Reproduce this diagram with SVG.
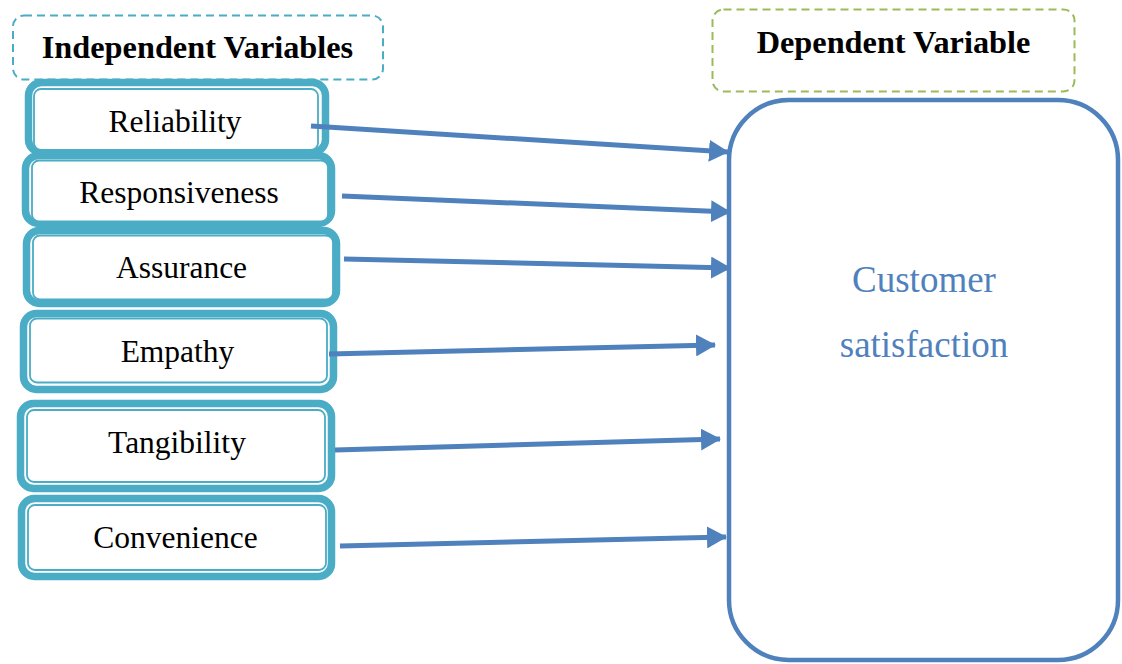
<svg xmlns="http://www.w3.org/2000/svg" width="1122" height="664" viewBox="0 0 1122 664">
<style>
.outer{fill:#fff;stroke:#4BACC6;stroke-width:7.5}
.inner{fill:#fff;stroke:#4BACC6;stroke-width:1.8}
.lbl{font-family:"Liberation Serif","Times New Roman",serif;font-size:31.5px;fill:#000;text-anchor:middle}
.hdr{font-family:"Liberation Serif","Times New Roman",serif;font-size:32.3px;font-weight:bold;fill:#000;text-anchor:middle}
.cs{font-family:"Liberation Serif","Times New Roman",serif;font-size:37px;fill:#4F81BD;text-anchor:middle}
.conn{stroke:#4F81BD;stroke-width:5;fill:none;marker-end:url(#ah)}
</style>
<defs>
<marker id="ah" markerUnits="userSpaceOnUse" markerWidth="20" markerHeight="22" viewBox="0 0 20 22" refX="19" refY="11" orient="auto">
<path d="M0,0 L20,11 L0,22 Z" fill="#4F81BD"/>
</marker>
</defs>
<rect width="1122" height="664" fill="#fff"/>
<g id="independent-header">
<rect x="13" y="15.5" width="370" height="64" rx="11" fill="none" stroke="#4BACC6" stroke-width="2" stroke-dasharray="8 5"/>
<text class="hdr" x="197.5" y="58">Independent Variables</text>
</g>
<g id="dependent-header">
<rect x="712.5" y="9.5" width="362" height="82" rx="11" fill="none" stroke="#9BBB59" stroke-width="2" stroke-dasharray="8 5"/>
<text class="hdr" x="893.5" y="53">Dependent Variable</text>
</g>
<g id="customer-satisfaction">
<rect x="729" y="100" width="389" height="560" rx="60" fill="#fff" stroke="#4F81BD" stroke-width="4.5"/>
<text class="cs" x="924" y="292">Customer</text>
<text class="cs" x="924" y="357">satisfaction</text>
</g>
<g id="reliability">
<rect class="outer" x="28.5" y="82.5" width="297" height="70" rx="13"/>
<rect class="inner" x="34" y="89" width="284" height="61" rx="7"/>
<text class="lbl" x="175" y="132">Reliability</text>
</g>
<g id="responsiveness">
<rect class="outer" x="25.5" y="155.5" width="306" height="68" rx="13"/>
<rect class="inner" x="32" y="160.5" width="296" height="61" rx="7"/>
<text class="lbl" x="179" y="203">Responsiveness</text>
</g>
<g id="assurance">
<rect class="outer" x="26.5" y="230.5" width="310" height="73" rx="13"/>
<rect class="inner" x="33" y="235.5" width="300" height="64" rx="7"/>
<text class="lbl" x="181.5" y="278">Assurance</text>
</g>
<g id="empathy">
<rect class="outer" x="23.5" y="313.5" width="310" height="76" rx="13"/>
<rect class="inner" x="30" y="318.5" width="297" height="64" rx="7"/>
<text class="lbl" x="177.5" y="362">Empathy</text>
</g>
<g id="tangibility">
<rect class="outer" x="20.5" y="403.5" width="311" height="85" rx="13"/>
<rect class="inner" x="27" y="410" width="298" height="72" rx="7"/>
<text class="lbl" x="177" y="453">Tangibility</text>
</g>
<g id="convenience">
<rect class="outer" x="21.5" y="498.5" width="310" height="78" rx="13"/>
<rect class="inner" x="28" y="505" width="298" height="65" rx="7"/>
<text class="lbl" x="175.5" y="548">Convenience</text>
</g>
<g id="connectors">
<line class="conn" x1="311" y1="126" x2="728" y2="152"/>
<line class="conn" x1="342" y1="196" x2="730" y2="212"/>
<line class="conn" x1="344" y1="259" x2="730" y2="268"/>
<line class="conn" x1="329" y1="354" x2="715" y2="345"/>
<line class="conn" x1="335" y1="450" x2="720" y2="439"/>
<line class="conn" x1="340" y1="546" x2="726" y2="537"/>
</g>
</svg>
